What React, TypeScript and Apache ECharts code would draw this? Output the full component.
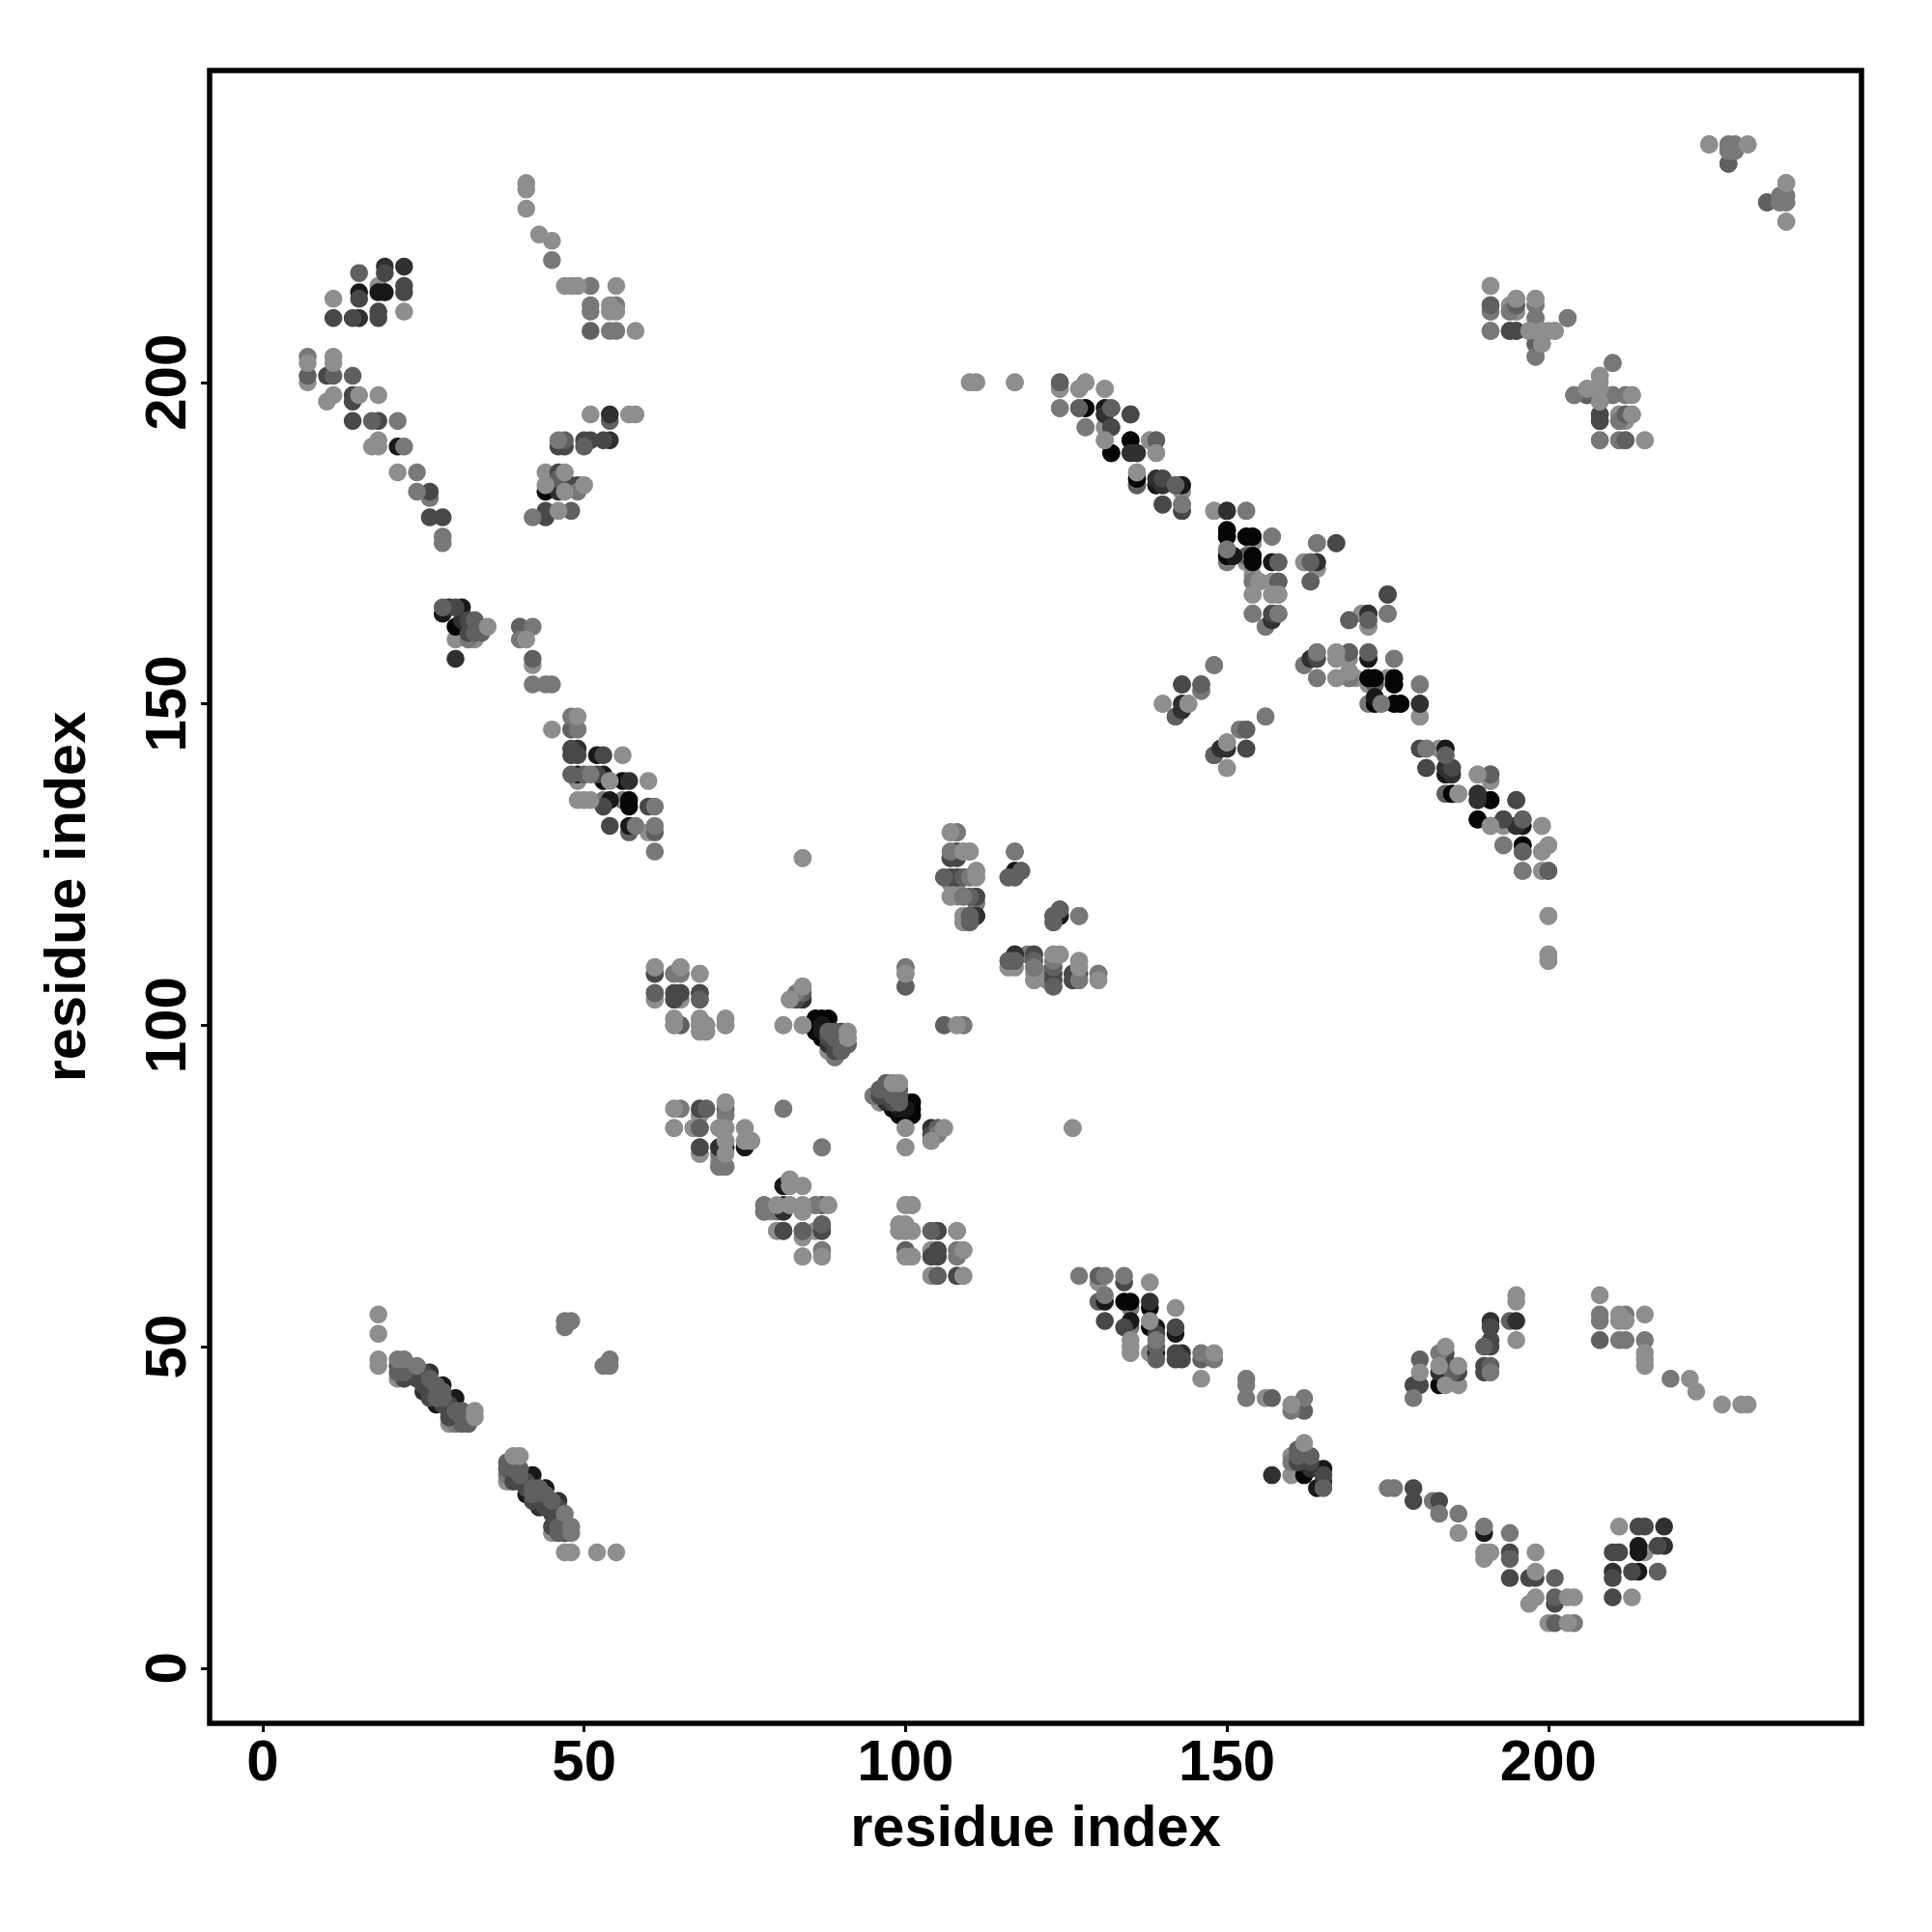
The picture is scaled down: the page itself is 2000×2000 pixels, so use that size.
import React, { useEffect, useRef } from "react";
import * as echarts from "echarts";

type P = [number, number, string];

const tickValues = [0, 50, 100, 150, 200];
const axisTitle = "residue index";

// contacts read off the upper-left half of the map: [i, j, shade]
// an upper-case shade has the same colour as its lower-case one, but lies beneath the others
const arcTopLeft: P[] = [
  [15,217,"c"],[19,218,"e"],[19,217,"d"],[22,218,"e"],[15,214,"f"],[15,213,"d"],[18,215,"A"],[18,214,"f"],[19,214,"f"],
  [22,215,"d"],[22,214,"d"],[11,213,"a"],[22,211,"a"],[11,210,"d"],[14,210,"d"],[15,210,"e"],[18,211,"d"],[18,210,"d"],
];
const arcLeft: P[] = [
  [7,204,"b"],[7,203,"a"],[11,204,"a"],[11,203,"a"],[7,201,"c"],[7,200,"A"],[10,201,"d"],[11,201,"c"],[14,201,"c"],
  [11,198,"a"],[10,197,"a"],[14,198,"d"],[14,197,"d"],[15,198,"a"],[18,198,"a"],[14,194,"d"],[17,194,"c"],[18,194,"d"],[21,194,"b"],
  [17,190,"a"],[18,191,"a"],[18,190,"a"],[21,190,"f"],[22,190,"b"],[21,186,"a"],[24,186,"b"],[24,183,"b"],[26,183,"d"],[26,182,"B"],
  [26,179,"d"],[28,179,"d"],[28,176,"b"],[28,175,"b"],
];
const arcTop: P[] = [
  [41,231,"a"],[41,230,"a"],[41,227,"a"],[43,223,"a"],[45,222,"a"],[45,219,"b"],[47,215,"a"],[48,215,"a"],[49,215,"a"],[51,215,"b"],[55,215,"a"],
  [51,212,"b"],[51,211,"b"],[54,212,"a"],[55,212,"b"],[54,211,"a"],[55,211,"a"],[51,208,"c"],[54,208,"b"],[55,208,"b"],[58,208,"a"],
];
const arcMiddle: P[] = [
  [51,195,"a"],[54,195,"e"],[54,194,"C"],[57,195,"a"],[58,195,"a"],[46,191,"b"],[47,191,"c"],[50,191,"d"],[51,191,"d"],[53,191,"d"],[54,191,"e"],
  [46,190,"d"],[47,190,"d"],[50,190,"c"],[44,186,"A"],[46,186,"d"],[47,186,"a"],[46,185,"c"],[44,184,"a"],[48,184,"d"],[49,184,"d"],[50,184,"a"],
  [44,183,"g"],[46,183,"e"],[47,183,"a"],[49,183,"b"],[44,180,"d"],[46,180,"a"],[48,180,"c"],[42,179,"b"],[44,179,"d"],
];
const bandUpper: P[] = [
  [28,165,"c"],[28,164,"f"],[29,165,"e"],[30,165,"d"],[31,165,"f"],[30,162,"g"],[31,163,"e"],[32,163,"d"],[33,163,"c"],[32,161,"d"],[33,161,"c"],[34,161,"c"],
  [35,162,"a"],[30,160,"A"],[32,160,"B"],[33,160,"A"],[30,157,"e"],[40,162,"c"],[42,162,"b"],[40,160,"b"],[41,160,"a"],[42,157,"c"],[42,156,"A"],
  [42,153,"b"],[44,153,"b"],[45,153,"b"],
];
const bandLower: P[] = [
  [48,148,"b"],[49,148,"a"],[45,146,"a"],[48,146,"c"],[49,146,"b"],[48,143,"d"],[49,143,"e"],[48,142,"d"],[49,142,"d"],[52,142,"f"],[53,142,"d"],[56,142,"a"],
  [48,139,"c"],[49,139,"f"],[50,139,"c"],[51,139,"b"],[52,139,"d"],[53,139,"f"],[49,138,"A"],[53,138,"g"],[54,138,"a"],[56,138,"g"],[57,138,"e"],[60,138,"a"],
  [49,135,"a"],[50,135,"a"],[51,135,"a"],[53,135,"B"],[54,135,"f"],[56,135,"B"],[57,135,"g"],[53,134,"d"],[57,134,"g"],[60,134,"d"],[61,134,"b"],
  [54,131,"d"],[57,131,"f"],[58,131,"b"],[61,131,"b"],[57,130,"C"],[60,130,"A"],[61,130,"c"],[61,127,"b"],
];
const centreTop: P[] = [
  [84,126,"a"],[107,130,"a"],[108,130,"b"],[107,127,"A"],[108,127,"d"],[109,127,"a"],[110,127,"a"],[107,126,"d"],[108,126,"d"],
  [106,123,"c"],[107,123,"d"],[108,123,"d"],[109,123,"c"],[110,123,"b"],[111,123,"b"],[111,124,"a"],[107,122,"A"],[107,120,"A"],[109,120,"b"],[110,120,"c"],[111,120,"d"],[111,119,"B"],
  [109,117,"A"],[110,117,"c"],[111,117,"f"],[109,116,"A"],[110,116,"B"],[117,127,"b"],[117,124,"f"],[116,123,"c"],[117,123,"d"],[118,124,"c"],
  [124,118,"c"],[123,117,"c"],[124,117,"f"],[123,116,"B"],[127,117,"b"],
  [117,111,"e"],[119,111,"A"],[120,111,"d"],[123,111,"a"],[124,111,"a"],[116,110,"c"],[117,110,"c"],[120,110,"c"],[123,110,"c"],[127,110,"a"],
  [116,109,"A"],[117,109,"A"],[120,109,"c"],[123,109,"d"],[127,109,"a"],[122,108,"A"],[120,108,"A"],[123,108,"d"],[126,108,"d"],[127,108,"d"],[130,108,"b"],
  [120,107,"A"],[123,107,"d"],[126,107,"d"],[127,107,"b"],[130,107,"A"],[123,106,"c"],
];
const centreMid: P[] = [
  [61,109,"a"],[61,108,"d"],[64,108,"b"],[65,109,"a"],[65,108,"b"],[68,108,"a"],[61,105,"c"],[61,104,"A"],[64,105,"d"],[65,105,"d"],[64,104,"C"],[65,104,"A"],[68,105,"d"],[68,104,"C"],
  [64,101,"a"],[64,100,"a"],[65,100,"c"],[68,101,"a"],[68,100,"a"],[69,100,"a"],[68,99,"a"],[69,99,"a"],[72,101,"a"],[72,100,"a"],
  [84,106,"a"],[83,105,"b"],[82,104,"a"],[84,105,"d"],[84,104,"e"],[83,104,"d"],[81,100,"a"],[84,100,"a"],
  [86,101,"g"],[87,101,"g"],[88,101,"g"],[86,100,"g"],[87,100,"f"],[87,98,"g"],[88,99,"c"],[90,99,"d"],[91,99,"a"],[91,98,"a"],[91,97,"d"],[88,96,"A"],[89,96,"d"],[90,96,"d"],[89,95,"B"],
  [88,98,"d"],[89,97,"d"],[89,98,"c"],[90,97,"d"],[88,97,"e"],[89,99,"c"],
  [100,109,"b"],[100,108,"a"],[100,106,"c"],[106,100,"c"],[108,100,"a"],[109,100,"b"],
];
const centreLow: P[] = [
  [95,89,"A"],[96,90,"c"],[97,91,"c"],[98,91,"b"],[99,91,"a"],[96,88,"A"],[97,89,"e"],[99,89,"c"],[98,87,"g"],[101,88,"g"],[101,87,"g"],[100,86,"g"],[101,86,"g"],[99,86,"g"],
  [98,88,"d"],[99,88,"c"],[98,89,"c"],[99,87,"f"],[100,87,"f"],[97,90,"d"],[98,90,"c"],
  [100,84,"a"],[100,81,"a"],[104,84,"e"],[105,84,"c"],[106,84,"a"],[104,83,"d"],[104,82,"A"],[126,84,"a"],
  [64,87,"a"],[65,87,"b"],[68,87,"d"],[69,87,"c"],[72,88,"a"],[72,87,"d"],[72,86,"c"],[68,86,"A"],[81,87,"b"],
  [64,84,"a"],[67,84,"A"],[68,84,"d"],[71,84,"a"],[72,84,"a"],[75,84,"a"],[68,81,"d"],[68,80,"A"],[71,81,"f"],[72,82,"a"],[72,81,"e"],[75,81,"f"],[76,82,"a"],[75,82,"a"],[87,81,"b"],
  [71,78,"b"],[72,78,"b"],[71,79,"A"],[72,80,"a"],
  [81,75,"f"],[82,76,"b"],[84,75,"a"],[82,75,"b"],[78,72,"c"],[81,72,"f"],[82,72,"a"],[84,72,"a"],[86,72,"b"],[87,72,"c"],[88,72,"a"],[78,71,"c"],[80,71,"B"],[81,71,"e"],[84,71,"a"],
  [80,68,"A"],[81,68,"d"],[84,68,"c"],[86,68,"A"],[87,69,"d"],[87,68,"e"],[84,67,"A"],[87,65,"b"],[84,64,"b"],[87,64,"A"],
  [100,72,"b"],[101,72,"a"],[99,69,"a"],[100,69,"a"],[99,68,"A"],[100,68,"c"],[101,68,"a"],[104,68,"c"],[105,68,"d"],[108,68,"a"],
  [100,65,"c"],[101,64,"a"],[100,64,"A"],[104,65,"A"],[105,65,"d"],[105,64,"d"],[104,64,"d"],[108,64,"c"],[109,65,"b"],[108,65,"b"],[104,61,"A"],[105,61,"d"],[108,61,"d"],[109,61,"a"],
];
const ridgeUpper: P[] = [
  [110,200,"a"],[111,200,"a"],[117,200,"a"],[124,200,"c"],[124,199,"A"],[128,200,"a"],[127,199,"a"],[131,199,"a"],[124,196,"b"],[127,196,"c"],[128,196,"g"],[131,196,"f"],[132,196,"c"],[131,195,"e"],[135,195,"d"],
  [128,193,"b"],[131,193,"A"],[132,193,"d"],[131,191,"a"],[135,191,"g"],[138,191,"A"],[139,191,"c"],[132,189,"g"],[135,189,"e"],[136,189,"e"],[139,189,"a"],
  [136,186,"a"],[136,185,"g"],[136,184,"C"],[139,185,"e"],[140,185,"d"],[139,184,"f"],[140,184,"e"],[142,184,"c"],[143,184,"f"],[143,183,"A"],[140,181,"d"],[143,181,"b"],[143,180,"d"],
  [148,180,"A"],[150,180,"e"],[153,180,"b"],[150,177,"g"],[150,176,"g"],[153,176,"g"],[154,176,"g"],[157,176,"b"],[154,175,"A"],[150,174,"A"],[151,173,"f"],[150,173,"g"],[150,172,"B"],[153,173,"A"],[153,172,"A"],[154,173,"g"],[154,172,"g"],
  [157,172,"f"],[158,172,"c"],[162,172,"A"],[163,172,"B"],[164,172,"e"],[164,171,"A"],[164,175,"c"],[167,175,"d"],[154,169,"c"],[155,169,"a"],[158,169,"d"],[157,169,"A"],[163,169,"c"],
  [154,167,"a"],[157,167,"A"],[158,167,"a"],[154,164,"b"],[157,164,"d"],[158,164,"b"],[157,163,"e"],[156,162,"B"],
];
const ridgeLower: P[] = [
  [169,163,"c"],[171,164,"A"],[172,164,"e"],[172,163,"c"],[172,162,"A"],[175,167,"d"],[175,164,"b"],[164,158,"c"],[167,158,"a"],[169,158,"c"],[172,158,"c"],[172,157,"f"],[167,157,"a"],[176,157,"b"],[164,157,"d"],[163,157,"e"],[162,156,"A"],
  [164,154,"b"],[167,154,"a"],[169,155,"a"],[169,154,"b"],[170,154,"A"],[172,154,"g"],[173,154,"g"],[176,154,"g"],[176,153,"g"],[180,153,"b"],[173,153,"C"],[175,154,"A"],
  [172,150,"A"],[173,151,"f"],[173,150,"g"],[174,150,"b"],[176,150,"g"],[177,150,"g"],[180,150,"e"],[180,148,"A"],
  [180,143,"d"],[181,143,"c"],[183,143,"A"],[184,143,"f"],[184,142,"C"],[181,140,"d"],[184,140,"g"],[185,140,"e"],[184,139,"g"],[185,139,"e"],[184,136,"C"],[185,136,"g"],[186,136,"a"],
  [189,139,"A"],[191,139,"c"],[191,138,"A"],[189,136,"f"],[189,135,"e"],[191,135,"g"],[195,135,"d"],[189,132,"g"],[191,131,"b"],[193,132,"d"],[193,131,"A"],[195,131,"e"],[196,132,"c"],[196,131,"f"],[199,131,"a"],
  [193,128,"b"],[196,128,"g"],[196,127,"D"],[199,127,"a"],[200,128,"a"],[196,124,"b"],[199,124,"A"],[200,124,"c"],[200,117,"a"],[200,111,"a"],[200,110,"a"],
];
const crossBranch: P[] = [
  [148,156,"b"],[143,153,"d"],[146,153,"c"],[146,152,"B"],[140,150,"a"],[143,150,"e"],[144,150,"a"],[143,149,"e"],[142,148,"C"],
  [156,148,"b"],[152,146,"A"],[153,146,"c"],[150,144,"a"],[149,143,"e"],[150,143,"e"],[148,142,"C"],[153,143,"d"],[150,140,"a"],
];
const farCorner: P[] = [
  [191,215,"a"],[191,212,"c"],[191,211,"A"],[191,208,"b"],[194,212,"A"],[195,213,"a"],[195,212,"c"],[194,211,"A"],[195,211,"A"],[198,213,"a"],[198,212,"b"],
  [194,208,"d"],[195,208,"d"],[197,208,"A"],[198,210,"b"],[198,208,"c"],[199,208,"a"],[201,208,"a"],[203,210,"b"],[198,206,"c"],[199,206,"a"],[198,204,"b"],
  [210,203,"b"],[208,201,"a"],[208,200,"a"],[206,199,"a"],[204,198,"b"],[206,198,"c"],[208,198,"b"],[210,198,"b"],[212,198,"b"],[213,198,"a"],[208,197,"a"],
  [208,195,"d"],[208,194,"d"],[211,195,"A"],[212,195,"c"],[213,195,"a"],[211,194,"B"],[208,191,"b"],[211,191,"B"],[212,191,"c"],[215,191,"a"],
  [225,237,"a"],[228,237,"b"],[229,237,"b"],[231,237,"a"],[228,236,"b"],[229,236,"b"],[228,234,"C"],[237,231,"a"],[234,228,"C"],[236,229,"b"],[237,229,"b"],[236,228,"b"],[237,228,"b"],[237,225,"a"],
];
const nearDiagonal: P[] = [
  [18,55,"a"],[18,52,"a"],[18,48,"a"],[18,47,"a"],[21,48,"b"],[22,48,"b"],[21,47,"d"],[21,46,"c"],[21,45,"A"],[22,47,"c"],[22,46,"c"],[22,45,"d"],[24,47,"b"],[25,46,"d"],[26,46,"e"],
  [25,43,"e"],[27,41,"f"],[28,44,"f"],[30,42,"f"],[29,39,"d"],[29,38,"A"],[30,38,"B"],[31,40,"c"],[31,39,"c"],[32,39,"c"],[33,40,"a"],[33,39,"a"],[32,38,"C"],[31,38,"C"],[29,40,"d"],[26,42,"d"],[28,41,"d"],
  [24,45,"d"],[25,44,"d"],[26,43,"d"],[27,42,"c"],[28,42,"c"],[29,41,"d"],[30,40,"c"],[26,45,"c"],[27,44,"c"],[28,43,"c"],
  [47,54,"b"],[48,54,"b"],[47,53,"b"],
];

const contacts: P[] = [
  ...arcTopLeft, ...arcLeft, ...arcTop, ...arcMiddle, ...bandUpper, ...bandLower, ...centreTop, ...centreMid, ...centreLow,
  ...ridgeUpper, ...ridgeLower, ...crossBranch, ...farCorner, ...nearDiagonal,
];

const shadeColor: Record<string, string> = {
  a: "#8e8e8e", b: "#787878", c: "#606060", d: "#484848", e: "#303030", f: "#181818", g: "#050505",
};
const drawOrder = ["A", "B", "C", "D", "g", "f", "e", "d", "c", "b", "a"];

const FONT = "Liberation Sans";

export default function App() {
  const ref = useRef<HTMLDivElement>(null);
  useEffect(() => {
    const chart = echarts.init(ref.current!, undefined, { renderer: "svg" });
    const series = drawOrder.map((s) => ({
      type: "scatter",
      symbol: "circle",
      symbolSize: 18.5,
      silent: true,
      itemStyle: { color: shadeColor[s.toLowerCase()], opacity: 1 },
      data: contacts
        .filter((p) => p[2] === s)
        .flatMap((p) => [[p[0], p[1]], [p[1], p[0]]]),
    }));
    const labelStyle = { fontFamily: FONT, fontWeight: "bold", fontSize: 60, color: "#000" };
    const titleStyle = { fontFamily: FONT, fontWeight: "bold", fontSize: 59.5, color: "#000" };
    chart.setOption({
      animation: false,
      backgroundColor: "#fff",
      grid: {
        show: true, left: 217, top: 73, width: 1710, height: 1711,
        borderColor: "#000", borderWidth: 5.5, backgroundColor: "transparent",
      },
      xAxis: {
        type: "value", min: -8.25, max: 248.7, splitLine: { show: false }, axisLine: { show: false, onZero: false },
        axisTick: { show: true, length: 9, lineStyle: { width: 3, color: "#000" }, customValues: tickValues },
        axisLabel: { ...labelStyle, margin: 8, customValues: tickValues },
        name: axisTitle, nameLocation: "middle", nameGap: 76, nameTextStyle: titleStyle,
      },
      yAxis: {
        type: "value", min: -8.6, max: 248.5, splitLine: { show: false }, axisLine: { show: false, onZero: false },
        axisTick: { show: true, length: 9, lineStyle: { width: 3, color: "#000" }, customValues: tickValues },
        axisLabel: { ...labelStyle, rotate: 90, margin: 46, align: "center", verticalAlign: "middle", customValues: tickValues },
        name: axisTitle, nameLocation: "middle", nameGap: 120, nameRotate: 90, nameTextStyle: titleStyle,
      },
      series,
    });
    return () => chart.dispose();
  }, []);
  return <div ref={ref} style={{ position: "absolute", left: 0, top: 0, width: 2000, height: 2000 }} />;
}
